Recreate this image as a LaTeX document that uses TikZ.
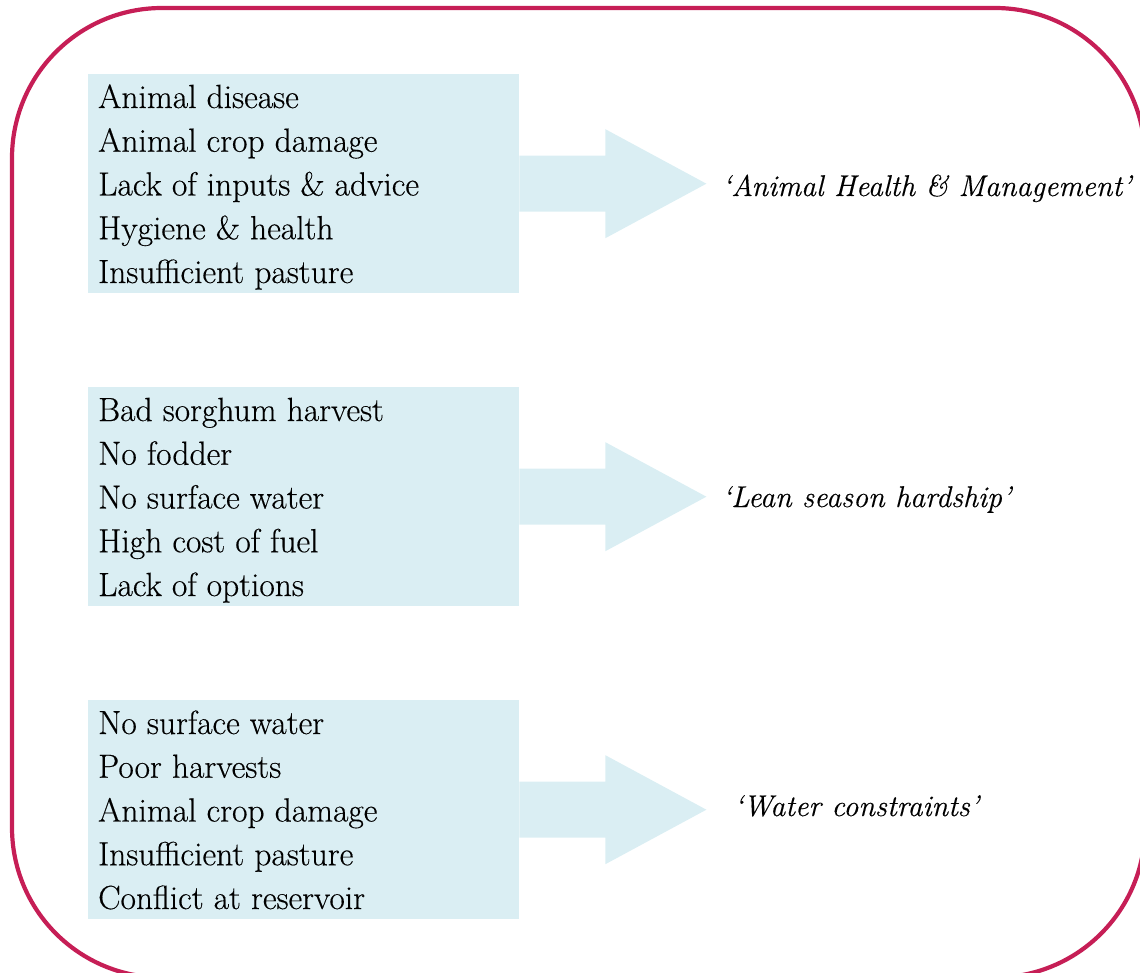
\documentclass[tikz,border=0pt]{standalone}
\usepackage{fontspec}
\setmainfont{Latin Modern Roman}[FakeBold=0.35]
\usetikzlibrary{calc}
\definecolor{frame}{RGB}{198,30,86}
\definecolor{boxblue}{HTML}{DAEEF3}
\begin{document}
\begin{tikzpicture}[x=1pt,y=-1pt,
  causebox/.style={fill=boxblue,draw=none,inner sep=0pt,minimum width=431pt,minimum height=219pt,anchor=north west},
  item/.style={anchor=base west,inner sep=0pt,font=\fontsize{33.5}{44}\selectfont},
  theme/.style={anchor=base west,inner sep=0pt,font=\fontsize{30}{40}\selectfont\itshape},
  bigarrow/.style={fill=boxblue,draw=none}]
\useasboundingbox (0,0) rectangle (1140,973);
\clip (0,0) rectangle (1140,973);
\draw[frame,line width=4.2pt,rounded corners=150pt] (12,8) rectangle (1145,977.5);
% boxes
\foreach \i/\top in {1/74,2/387,3/700}{
  \node[causebox] (b\i) at (88,\top) {};
  \fill[bigarrow] ($(b\i.east)+(0,-28)$) -- ($(b\i.east)+(86,-28)$) -- ($(b\i.east)+(86,-54.5)$)
     -- ($(b\i.east)+(187,0)$) -- ($(b\i.east)+(86,54.5)$) -- ($(b\i.east)+(86,28)$)
     -- ($(b\i.east)+(0,28)$) -- cycle;
  \coordinate (tip\i) at ($(b\i.east)+(187,0)$);
}
% items
\foreach \txt [count=\k] in {Animal disease,Animal crop damage,Lack of inputs \& advice,Hygiene \& health,Insufficient pasture}
  \node[item] (a\k) at (98,{108+43.75*(\k-1)}) {\txt};
\foreach \txt [count=\k] in {Bad sorghum harvest,No fodder,No surface water,High cost of fuel,Lack of options}
  \node[item] (c\k) at (98,{421+43.75*(\k-1)}) {\txt};
\foreach \txt [count=\k] in {No surface water,Poor harvests,Animal crop damage,Insufficient pasture,Conflict at reservoir}
  \node[item] (d\k) at (98,{734+43.75*(\k-1)}) {\txt};
% themes
\node[theme] (th1) at (722,196) {‘Animal Health \& Management’};
\node[theme] (th2) at (722,507) {‘Lean season hardship’};
\node[theme] (th3) at (734,816) {‘Water constraints’};
\end{tikzpicture}
\end{document}
